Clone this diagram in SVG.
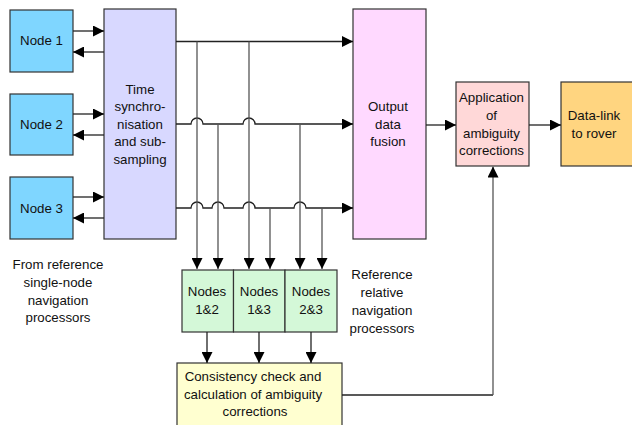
<svg xmlns="http://www.w3.org/2000/svg" width="632" height="425" viewBox="0 0 632 425">
<defs>
<style>
.box{stroke:#333;stroke-width:1.2}
.t{font-family:"Liberation Sans",Arial,sans-serif;font-size:13.3px;fill:#111;text-anchor:middle}
.c{fill:none;stroke:#222;stroke-width:1.3}
.g{fill:none;stroke:#555;stroke-width:1.3}
</style>
<marker id="ah" markerWidth="11" markerHeight="11" refX="11" refY="5.5" orient="auto" markerUnits="userSpaceOnUse">
<path d="M0,0 L11,5.5 L0,11 z" fill="#000"/>
</marker>
</defs>
<rect width="632" height="425" fill="#fff"/>

<g id="node1"><rect class="box" x="10" y="10" width="63" height="62" fill="#7FD6FF"/><text class="t" x="41.5" y="45">Node 1</text></g>
<g id="node2"><rect class="box" x="10" y="94" width="63" height="61" fill="#7FD6FF"/><text class="t" x="41.5" y="129">Node 2</text></g>
<g id="node3"><rect class="box" x="10" y="177" width="63" height="62" fill="#7FD6FF"/><text class="t" x="41.5" y="212.5">Node 3</text></g>

<g id="timesync"><rect class="box" x="104" y="9" width="72" height="230" fill="#D8D8FF"/>
<text class="t" x="140" y="93.5">Time</text>
<text class="t" x="140" y="111">synchro-</text>
<text class="t" x="140" y="128.5">nisation</text>
<text class="t" x="140" y="146">and sub-</text>
<text class="t" x="140" y="163.5">sampling</text></g>

<g id="fusion"><rect class="box" x="353" y="9" width="73" height="230" fill="#FFD9FF"/>
<text class="t" x="388" y="111">Output</text>
<text class="t" x="388" y="128.5">data</text>
<text class="t" x="388" y="146">fusion</text></g>

<g id="application"><rect class="box" x="456" y="82" width="73" height="84" fill="#FFD8D8"/>
<text class="t" x="491.5" y="102">Application</text>
<text class="t" x="491.5" y="120">of</text>
<text class="t" x="491.5" y="138">ambiguity</text>
<text class="t" x="491.5" y="155">corrections</text></g>

<g id="datalink"><rect class="box" x="561" y="82" width="80" height="84" fill="#FFD580"/>
<text class="t" x="594" y="119.5">Data-link</text>
<text class="t" x="594" y="137.5">to rover</text></g>

<g id="nodes12"><rect class="box" x="182" y="270" width="51.5" height="62" fill="#D4F8D8"/>
<text class="t" x="207" y="296">Nodes</text><text class="t" x="207" y="313.5">1&amp;2</text></g>
<g id="nodes13"><rect class="box" x="233.5" y="270" width="51.5" height="62" fill="#D4F8D8"/>
<text class="t" x="259" y="296">Nodes</text><text class="t" x="259" y="313.5">1&amp;3</text></g>
<g id="nodes23"><rect class="box" x="285" y="270" width="52" height="62" fill="#D4F8D8"/>
<text class="t" x="311" y="296">Nodes</text><text class="t" x="311" y="313.5">2&amp;3</text></g>

<g id="consistency"><rect class="box" x="177" y="363" width="165" height="70" fill="#FFFFD0"/>
<text class="t" x="253" y="380.5">Consistency check and</text>
<text class="t" x="253" y="398.5">calculation of ambiguity</text>
<text class="t" x="255" y="416">corrections</text></g>

<g id="labels">
<text class="t" x="58" y="268.5">From reference</text>
<text class="t" x="58" y="286.5">single-node</text>
<text class="t" x="58" y="305">navigation</text>
<text class="t" x="58" y="322">processors</text>
<text class="t" x="382" y="278.5">Reference</text>
<text class="t" x="382" y="296.5">relative</text>
<text class="t" x="382" y="314.5">navigation</text>
<text class="t" x="382" y="332.5">processors</text>
</g>

<g id="connectors">
<path class="c" d="M73,31 H104" marker-end="url(#ah)"/>
<path class="c" d="M104,52 H73" marker-end="url(#ah)"/>
<path class="c" d="M73,114 H104" marker-end="url(#ah)"/>
<path class="c" d="M104,135 H73" marker-end="url(#ah)"/>
<path class="c" d="M73,197 H104" marker-end="url(#ah)"/>
<path class="c" d="M104,218 H73" marker-end="url(#ah)"/>

<path class="c" d="M176,41.5 H353" marker-end="url(#ah)"/>
<path class="c" d="M176,124 H191 a6,6 0 0 1 12,0 H243 a6,6 0 0 1 12,0 H353" marker-end="url(#ah)"/>
<path class="c" d="M176,208 H191 a6,6 0 0 1 12,0 H212 a6,6 0 0 1 12,0 H243 a6,6 0 0 1 12,0 H294 a6,6 0 0 1 12,0 H353" marker-end="url(#ah)"/>

<path class="g" d="M197,41.5 V269" marker-end="url(#ah)"/>
<path class="g" d="M249,41.5 V269" marker-end="url(#ah)"/>
<path class="g" d="M218,124 V269" marker-end="url(#ah)"/>
<path class="g" d="M300,124 V269" marker-end="url(#ah)"/>
<path class="g" d="M270,208 V269" marker-end="url(#ah)"/>
<path class="g" d="M322,208 V269" marker-end="url(#ah)"/>

<path class="c" d="M207,332 V363" marker-end="url(#ah)"/>
<path class="c" d="M259,332 V363" marker-end="url(#ah)"/>
<path class="c" d="M311,332 V363" marker-end="url(#ah)"/>

<path class="c" d="M426,125 H456" marker-end="url(#ah)"/>
<path class="c" d="M529,125 H561" marker-end="url(#ah)"/>
<path class="c" d="M342,395 H493" />
<path class="g" d="M493,395 V166.5" marker-end="url(#ah)"/>
</g>
</svg>
